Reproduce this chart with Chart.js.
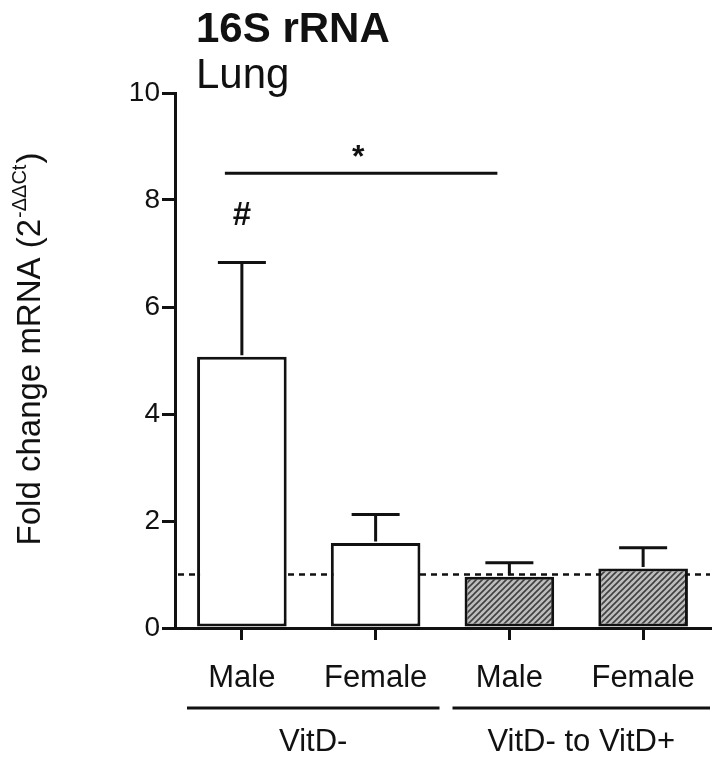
<!DOCTYPE html>
<html><head><meta charset="utf-8">
<script src="https://cdn.jsdelivr.net/npm/chart.js@4/dist/chart.umd.min.js"></script>
<style>html,body{margin:0;padding:0;background:#fff}#wrap{width:723px;height:763px;position:relative}</style>
</head><body><div id="wrap"><canvas id="c" width="723" height="763"></canvas></div>
<script>
// ---- data ----
const categories = ['Male', 'Female', 'Male', 'Female'];
const groupLabels = ['VitD-', 'VitD- to VitD+'];
const groupOfCategory = [0, 0, 1, 1];
const means = [5.07, 1.59, 0.96, 1.11];
const errorTops = [6.83, 2.12, 1.22, 1.50];
const yTicks = [0, 2, 4, 6, 8, 10];
const referenceLevel = 1;
const sigFrom = 0, sigTo = 2, sigLevel = 8.5, sigLabel = '*';
const hashIndex = 0, hashLevel = 7.75, hashLabel = '#';
const titleText = '16S rRNA';
const subtitleText = 'Lung';
const yTitleMain = 'Fold change mRNA (2';
const yTitleSup = '-ΔΔCt';
const yTitleEnd = ')';

const FONT = "'Liberation Sans', Arial, Helvetica, sans-serif";

function hatch() {
  const c = document.createElement('canvas');
  c.width = 6; c.height = 6;
  const g = c.getContext('2d');
  g.fillStyle = '#bdbdbd'; g.fillRect(0, 0, 6, 6);
  g.strokeStyle = '#404040'; g.lineWidth = 1.6;
  g.beginPath();
  g.moveTo(-1, 7); g.lineTo(7, -1);
  g.moveTo(-4, 4); g.lineTo(4, -4);
  g.moveTo(2, 10); g.lineTo(10, 2);
  g.stroke();
  return g.createPattern(c, 'repeat');
}
const pat = hatch();
const fills = groupOfCategory.map(g => g === 0 ? '#ffffff' : pat);

const decor = {
  id: 'decor',
  beforeDatasetsDraw(chart) {
    const { ctx, chartArea, scales: { y } } = chart;
    const yp = y.getPixelForValue(referenceLevel);
    ctx.save();
    ctx.strokeStyle = '#111'; ctx.lineWidth = 2.5; ctx.setLineDash([6, 5]);
    ctx.beginPath(); ctx.moveTo(chartArea.left + 3, yp); ctx.lineTo(chartArea.right, yp); ctx.stroke();
    ctx.restore();
  },
  afterDatasetsDraw(chart) {
    const { ctx, chartArea, scales: { x, y } } = chart;
    const meta = chart.getDatasetMeta(0);
    ctx.save();
    ctx.strokeStyle = '#111'; ctx.lineWidth = 3; ctx.lineCap = 'butt';
    meta.data.forEach((bar, i) => {
      const xp = bar.x;
      const y0 = y.getPixelForValue(means[i]);
      const y1 = y.getPixelForValue(errorTops[i]);
      ctx.beginPath();
      ctx.moveTo(xp, y0 - 1.5); ctx.lineTo(xp, y1);
      ctx.moveTo(xp - 24, y1); ctx.lineTo(xp + 24, y1);
      ctx.stroke();
    });
    // significance line
    const sy = y.getPixelForValue(sigLevel);
    const sx0 = x.getPixelForValue(sigFrom) - 17;
    const sx1 = x.getPixelForValue(sigTo) - 12;
    ctx.beginPath(); ctx.moveTo(sx0, sy); ctx.lineTo(sx1, sy); ctx.stroke();
    ctx.fillStyle = '#111';
    ctx.font = 'bold 32px ' + FONT;
    ctx.textAlign = 'center'; ctx.textBaseline = 'alphabetic';
    ctx.fillText(sigLabel, (sx0 + sx1) / 2 - 3, sy - 6);
    ctx.font = 'bold 33px ' + FONT;
    ctx.fillText(hashLabel, x.getPixelForValue(hashIndex), y.getPixelForValue(hashLevel) + 12);

    // group brackets
    const mid = (x.getPixelForValue(1) + x.getPixelForValue(2)) / 2;
    const lineY = 708;
    const spans = [[chartArea.left + 12, mid - 3], [mid + 10, chartArea.right]];
    ctx.lineWidth = 3;
    ctx.font = '31px ' + FONT;
    spans.forEach((s, gi) => {
      ctx.beginPath(); ctx.moveTo(s[0], lineY); ctx.lineTo(s[1], lineY); ctx.stroke();
      ctx.fillText(groupLabels[gi], (s[0] + s[1]) / 2, 751);
    });

    // titles
    ctx.textAlign = 'left';
    ctx.font = 'bold 42px ' + FONT;
    ctx.fillText(titleText, 196, 42);
    ctx.font = '42px ' + FONT;
    ctx.fillText(subtitleText, 196, 88);

    // y title (rotated)
    ctx.translate(40, 350);
    ctx.rotate(-Math.PI / 2);
    ctx.font = '33px ' + FONT;
    const wMain = ctx.measureText(yTitleMain).width;
    ctx.font = '20px ' + FONT;
    const wSup = ctx.measureText(yTitleSup).width;
    ctx.font = '33px ' + FONT;
    const wEnd = ctx.measureText(yTitleEnd).width;
    let start = -(wMain + wSup + wEnd) / 2;
    ctx.fillText(yTitleMain, start, 0);
    ctx.font = '20px ' + FONT;
    ctx.fillText(yTitleSup, start + wMain + 1, -14);
    ctx.font = '33px ' + FONT;
    ctx.fillText(yTitleEnd, start + wMain + wSup + 2, 0);
    ctx.restore();
  }
};

new Chart(document.getElementById('c'), {
  type: 'bar',
  data: {
    labels: categories,
    datasets: [{
      data: means,
      backgroundColor: fills,
      borderColor: '#111',
      borderWidth: 3,
      borderSkipped: false,
      categoryPercentage: 1,
      barPercentage: 0.67
    }]
  },
  options: {
    responsive: false,
    animation: false,
    devicePixelRatio: 1,
    layout: { padding: { top: 93, right: 13, left: 0, bottom: 0 } },
    plugins: { legend: { display: false }, tooltip: { enabled: false } },
    scales: {
      x: {
        offset: true,
        grid: { display: true, drawOnChartArea: false, offset: false, color: '#111', lineWidth: 3, tickLength: 12 },
        border: { display: true, color: '#111', width: 3 },
        ticks: { color: '#111', font: { family: FONT, size: 31 }, padding: 20, maxRotation: 0 },
        afterFit(s) { s.height = 135; }
      },
      y: {
        min: 0, max: 10,
        afterBuildTicks(s) { s.ticks = yTicks.map(v => ({ value: v })); },
        grid: { display: true, drawOnChartArea: false, color: '#111', lineWidth: 3, tickLength: 13 },
        border: { display: true, color: '#111', width: 3 },
        ticks: { color: '#111', font: { family: FONT, size: 28 }, padding: 2 },
        afterFit(s) { s.width = 175; }
      }
    }
  },
  plugins: [decor]
});
</script>
</body></html>
